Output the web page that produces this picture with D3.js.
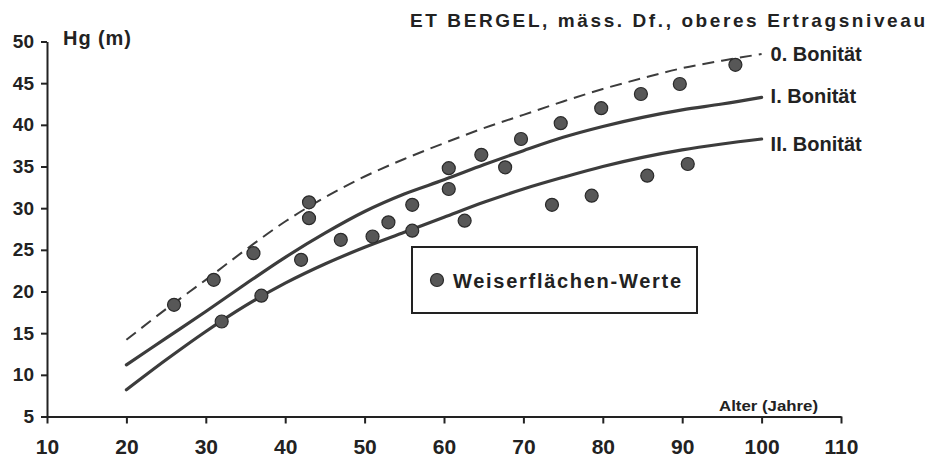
<!DOCTYPE html>
<html>
<head>
<meta charset="utf-8">
<script src="https://cdn.jsdelivr.net/npm/d3@7"></script>
<style>
  html, body { margin: 0; padding: 0; background: #fff; }
  svg { display: block; font-family: "Liberation Sans", Arial, Helvetica, sans-serif; font-weight: bold; }
</style>
</head>
<body>
<svg id="chart" width="928" height="461"></svg>
<script>
// Stand ages (years) at which the yield-table curves are given
const ages = [20, 25, 30, 35, 40, 45, 50, 55, 60, 65, 70, 75, 80, 85, 90, 95, 100];

// Mean height Hg (m) for each site class
const bonitaet0 = [14.2, 17.9, 21.4, 25.0, 28.4, 31.3, 33.8, 35.9, 37.8, 39.6, 41.2, 42.8, 44.3, 45.6, 46.8, 47.7, 48.5];
const bonitaet1 = [11.2, 14.4, 17.6, 20.9, 24.1, 27.0, 29.6, 31.7, 33.4, 35.2, 36.9, 38.5, 39.8, 40.9, 41.8, 42.5, 43.3];
const bonitaet2 = [8.2, 11.8, 15.2, 18.3, 21.0, 23.3, 25.3, 27.1, 28.9, 30.7, 32.3, 33.7, 35.0, 36.1, 37.0, 37.7, 38.3];

const curveNames = ["0. Bonität", "I. Bonität", "II. Bonität"];

// Sample plots (Weiserflächen): age and measured mean height
const plotAges = [26, 31, 32, 36, 37, 42, 43, 43, 47, 51, 53, 56, 56, 60.6, 60.6, 62.6, 64.7, 67.7, 69.7, 73.6, 74.7, 78.6, 79.8, 84.8, 85.6, 89.7, 90.7, 96.7];
const plotHg   = [18.4, 21.4, 16.4, 24.6, 19.5, 23.8, 30.7, 28.8, 26.2, 26.6, 28.3, 30.4, 27.3, 34.8, 32.3, 28.5, 36.4, 34.9, 38.3, 30.4, 40.2, 31.5, 42.0, 43.7, 33.9, 44.9, 35.3, 47.2];

// Axis ticks
const xTicks = [10, 20, 30, 40, 50, 60, 70, 80, 90, 100, 110];
const yTicks = [5, 10, 15, 20, 25, 30, 35, 40, 45, 50];

const titleText = "ET BERGEL, mäss. Df., oberes Ertragsniveau";
const yTitle = "Hg (m)";
const xTitle = "Alter (Jahre)";
const legendText = "Weiserflächen-Werte";

const svg = d3.select("#chart");
const ink = "#222";
const curveInk = "#3c3c3c";

const x = d3.scaleLinear().domain([10, 110]).range([47, 841]);
const y = d3.scaleLinear().domain([5, 50]).range([416.5, 41.5]);

// Axes
const yAxis = svg.append("g")
  .attr("transform", `translate(${x(10)},0)`)
  .call(d3.axisLeft(y).tickValues(yTicks).tickSize(6).tickSizeOuter(0).tickPadding(7));
yAxis.selectAll("text").attr("font-size", 19).attr("font-weight", "bold").attr("fill", ink)
  .attr("font-family", "Liberation Sans, Arial, sans-serif");

const xAxis = svg.append("g")
  .attr("transform", `translate(0,${y(5)})`)
  .call(d3.axisBottom(x).tickValues(xTicks).tickSize(7).tickSizeOuter(0).tickPadding(16));
xAxis.selectAll("text").attr("font-size", 21).attr("font-weight", "bold").attr("fill", ink)
  .attr("font-family", "Liberation Sans, Arial, sans-serif");

[yAxis, xAxis].forEach(g => {
  g.select(".domain").attr("stroke", ink).attr("stroke-width", 2);
  g.selectAll(".tick line").attr("stroke", ink).attr("stroke-width", 2);
});

// Site-class curves
const line = d3.line()
  .x((d, i) => x(ages[i]))
  .y(d => y(d))
  .curve(d3.curveCatmullRom.alpha(0.5));

svg.append("path")
  .attr("d", line(bonitaet0))
  .attr("fill", "none")
  .attr("stroke", curveInk)
  .attr("stroke-width", 2)
  .attr("stroke-dasharray", "12,7");

[bonitaet1, bonitaet2].forEach(series => {
  svg.append("path")
    .attr("d", line(series))
    .attr("fill", "none")
    .attr("stroke", curveInk)
    .attr("stroke-width", 3.2)
    .attr("stroke-linecap", "round");
});

// Curve labels beside the line ends
const labelOffsets = [7, 6, 12];
[bonitaet0, bonitaet1, bonitaet2].forEach((series, i) => {
  svg.append("text")
    .attr("x", x(100) + 9)
    .attr("y", y(series[series.length - 1]) + labelOffsets[i])
    .attr("font-size", 20)
    .attr("fill", ink)
    .text(curveNames[i]);
});

// Sample plot points
svg.append("g").selectAll("circle")
  .data(plotAges.map((a, i) => [a, plotHg[i]]))
  .join("circle")
  .attr("cx", d => x(d[0]))
  .attr("cy", d => y(d[1]))
  .attr("r", 6.5)
  .attr("fill", "#575757")
  .attr("stroke", "#2a2a2a")
  .attr("stroke-width", 1.2);

// Legend
svg.append("rect")
  .attr("x", 412).attr("y", 247)
  .attr("width", 285).attr("height", 66)
  .attr("fill", "#fff")
  .attr("stroke", ink)
  .attr("stroke-width", 2);
svg.append("circle")
  .attr("cx", 437).attr("cy", 280).attr("r", 6.5)
  .attr("fill", "#575757").attr("stroke", "#2a2a2a").attr("stroke-width", 1.2);
svg.append("text")
  .attr("x", 453).attr("y", 287.5)
  .attr("font-size", 20)
  .attr("textLength", 228).attr("lengthAdjust", "spacing")
  .attr("fill", ink)
  .text(legendText);

// Titles
svg.append("text")
  .attr("x", 410).attr("y", 27)
  .attr("font-size", 19)
  .attr("textLength", 515).attr("lengthAdjust", "spacing")
  .attr("fill", ink)
  .text(titleText);

svg.append("text")
  .attr("x", 63).attr("y", 45)
  .attr("font-size", 20)
  .attr("textLength", 68).attr("lengthAdjust", "spacing")
  .attr("fill", ink)
  .text(yTitle);

svg.append("text")
  .attr("x", 719).attr("y", 411)
  .attr("font-size", 14)
  .attr("textLength", 99).attr("lengthAdjust", "spacingAndGlyphs")
  .attr("fill", ink)
  .text(xTitle);
</script>
</body>
</html>
